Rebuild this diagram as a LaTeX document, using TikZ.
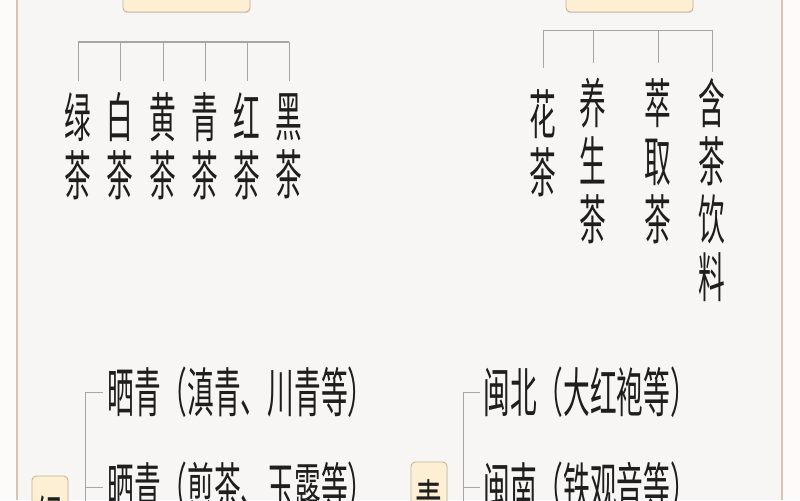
\documentclass[tikz,border=0pt]{standalone}
\usepackage{fontspec}
\newfontfamily\cjk[FakeStretch=0.50]{Noto Sans CJK SC}
\usetikzlibrary{
	positioning
	,shadows
}
\definecolor{panel}{HTML}{F7F6F4}
\definecolor{outer}{HTML}{FCFBF9}
\definecolor{frameline}{HTML}{D3C6B3}
\definecolor{boxfill}{HTML}{FDEFD3}
\definecolor{boxline}{HTML}{C4B494}
\definecolor{linegray}{HTML}{A6A6A6}
\definecolor{ink}{HTML}{1E1E1E}
\tikzset{
	tea/.style={font=\cjk\fontsize{38}{41.3}\selectfont,text=ink,inner sep=0pt,align=center},
	catbox/.style={draw=boxline,fill=boxfill,rounded corners=3pt,line width=0.6pt,
		drop shadow={shadow xshift=0.2pt,shadow yshift=-0.8pt,opacity=0.25}},
	bar/.style={draw=linegray,line width=2.1pt},
	tick/.style={draw=linegray,line width=0.7pt},
}

\begin{document}
\begin{tikzpicture}[x=0.025cm,y=-0.025cm]
\fill[outer] (0,0) rectangle (800,500);
\useasboundingbox (0,0) rectangle (800,500);
\fill[panel] (17,0) rectangle (782,500);
\draw[frameline,line width=1pt] (17,0)--(17,500);\draw[frameline,line width=1pt] (782,0)--(782,500);

% top category boxes
\node[catbox,minimum width=3.175cm,minimum height=1.05cm] (basic) at (186.5,-9) {};
\node[catbox,minimum width=3.175cm,minimum height=1.05cm] (reproc) at (629.5,-9) {};

% basic teas
\coordinate (barL) at (0,42);
\foreach \n/\x/\t in {lv/78/绿,bai/120/白,huang/163/黄,qing/205/青,hong/247/红,hei/289/黑}
	\node[tea] (\n) at (\x,146) {\t\\茶};
\draw[bar] (lv.north |- barL)--(hei.north |- barL);
\foreach \n in {lv,bai,huang,qing,hong,hei}
	\draw[tick] (\n.north |- barL)-- ++(0,39);

% reprocessed teas
\coordinate (barR) at (0,30);
\node[tea] (hua) at (543,143.5) {花\\茶};
\node[tea] (ys) at (593,161) {养\\生\\茶};
\node[tea] (cq) at (658,161) {萃\\取\\茶};
\node[tea] (hc) at (712,190) {含\\茶\\饮\\料};
\draw[tick] (hua.north |- barR)--(hc.north |- barR);
\foreach \n/\l in {hua/38,ys/33,cq/33,hc/42}
	\draw[tick] (\n.north |- barR)-- ++(0,\l);

% green tea branch
\node[catbox,tea,minimum width=0.9cm,minimum height=2.2cm] (lvbox) at (50,520) {绿};
\node[tea,anchor=west] (sq1) at (107,392) {晒青（滇青、川青等）};
\node[tea,anchor=west] (sq2) at (107,487) {晒青（煎茶、玉露等）};
\draw[tick,shorten <=3pt] (sq1.west)-- ++(-22,0) |- (lvbox.east);
\draw[tick,shorten <=3pt] (sq2.west)-- ++(-22,0);

% oolong branch
\node[catbox,tea,minimum width=0.9cm,minimum height=2.1cm] (qbox) at (429,504) {青};
\node[tea,anchor=west] (mb) at (483,392) {闽北（大红袍等）};
\node[tea,anchor=west] (mn) at (483,487) {闽南（铁观音等）};
\draw[tick,shorten <=2pt] (mb.west)-- ++(-20,0) |- (qbox.east);
\draw[tick,shorten <=2pt] (mn.west)-- ++(-20,0);
\end{tikzpicture}
\end{document}
